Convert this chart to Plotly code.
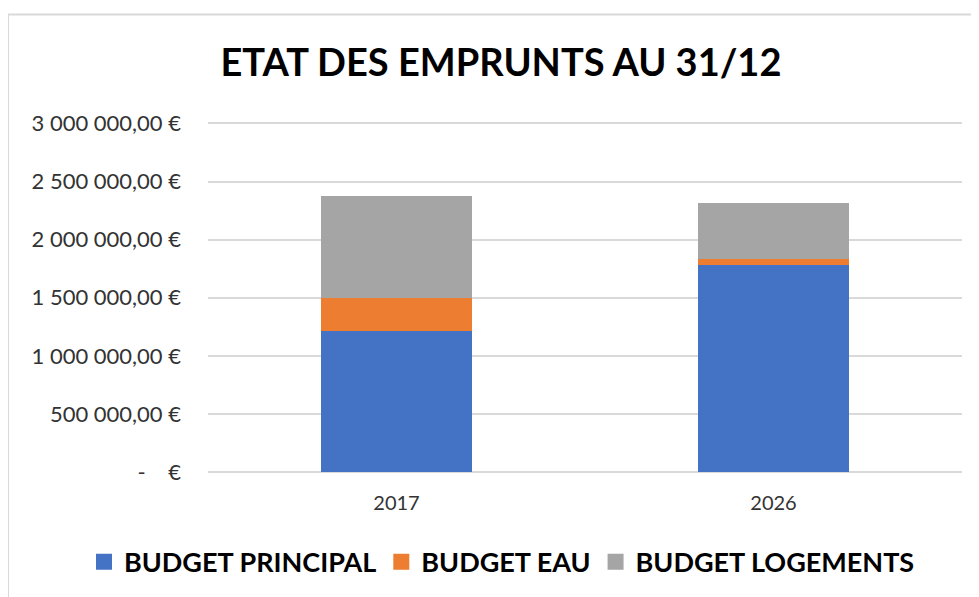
import plotly.graph_objects as go

# data
years = ["2017", "2026"]
budget_principal = [1217000, 1779000]
budget_eau = [278000, 57000]
budget_logements = [880000, 482000]

series_names = ["BUDGET PRINCIPAL", "BUDGET EAU", "BUDGET LOGEMENTS"]
series_colors = ["#4472C4", "#ED7D31", "#A5A5A5"]

tick_vals = [0, 500000, 1000000, 1500000, 2000000, 2500000, 3000000]
tick_text = ["-\u00a0\u00a0\u00a0\u00a0€", "500 000,00 €", "1 000 000,00 €", "1 500 000,00 €",
             "2 000 000,00 €", "2 500 000,00 €", "3 000 000,00 €"]

W, H = 979, 597
OFF = 8  # the page body has an 8px margin, so figure px = page px - 8
Y_MAX = 3030000
zero_px, top_px = 471.7 - OFF, 123 - OFF   # figure rows of 0 and 3 000 000
L, R = 208 - OFF, W - (962 - OFF)
B = H - zero_px
T = top_px - (Y_MAX - 3000000) / 3000000 * (zero_px - top_px)
pw, ph = W - L - R, H - T - B


def px_x(x):
    return (x - OFF - L) / pw


def px_y(y):
    return (H - B - (y - OFF)) / ph


fig = go.Figure()
for name, vals, col in zip(series_names, [budget_principal, budget_eau, budget_logements], series_colors):
    fig.add_trace(go.Bar(x=years, y=vals, name=name, marker=dict(color=col, line=dict(width=0)),
                         width=0.4, showlegend=False))
    # legend entry with a bigger square
    fig.add_trace(go.Scatter(x=[None], y=[None], mode="markers", name="<b>" + name + "</b>",
                             marker=dict(symbol="square", size=16, color=col)))

fig.update_layout(
    width=W, height=H,
    barmode="stack",
    paper_bgcolor="white", plot_bgcolor="white",
    margin=dict(l=L, r=R, t=T, b=B, autoexpand=False),
    font=dict(family="Lato", color="#333333"),
    title=dict(text="<b>ETAT DES EMPRUNTS AU 31/12</b>", x=px_x(501), xref="paper", xanchor="center",
               y=1 - (63 - OFF) / H, yref="container", yanchor="middle",
               font=dict(family="Lato", size=38, color="#000000")),
    # left of the plot area + below it, so plotly lets the legend use the full width
    legend=dict(orientation="h", x=px_x(84), xanchor="left",
                y=px_y(562), yanchor="middle",
                font=dict(family="Lato", size=27, color="#000000"), traceorder="normal",
                itemclick=False),
    showlegend=True,
    shapes=[dict(type="rect", xref="paper", yref="paper", x0=px_x(8), x1=px_x(1000),
                 y0=px_y(610), y1=px_y(14), line=dict(color="#D9D9D9", width=2), layer="below")],
)
fig.update_xaxes(showgrid=False, showline=False, ticks="", tickfont=dict(size=20, color="#333333"),
                 ticklabelstandoff=17, automargin=False)
fig.update_yaxes(range=[0, Y_MAX], tickvals=tick_vals, ticktext=tick_text, showgrid=True,
                 gridcolor="#D9D9D9", gridwidth=1.5, zeroline=True, zerolinecolor="#D9D9D9",
                 zerolinewidth=1.5, showline=False, ticks="", tickfont=dict(size=22, color="#333333"),
                 ticklabelstandoff=26, automargin=False)

fig.write_html("out.html")
